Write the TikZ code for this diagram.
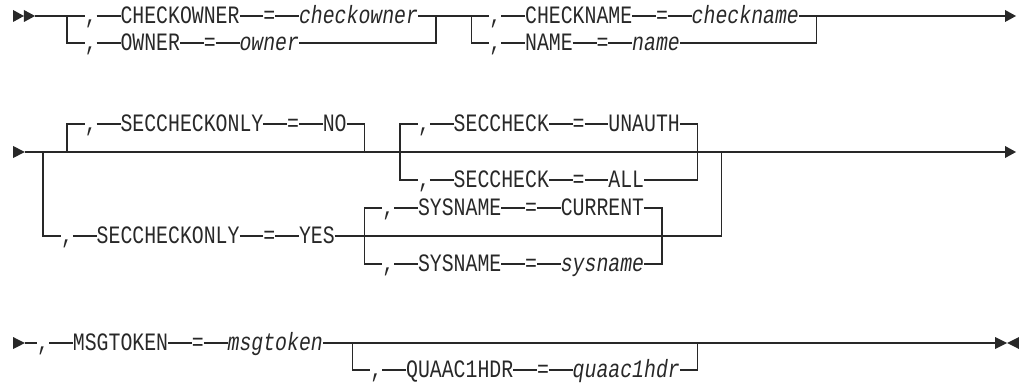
\documentclass[tikz,border=0pt]{standalone}
\usepackage{fontspec}
\usepackage{xcolor}
\usepackage{tikz}
\usetikzlibrary{calc}
\newfontfamily\railfont{Liberation Mono}[FakeStretch=0.7934]
\definecolor{RailInk}{RGB}{40,40,40}

\tikzset{
	rail/.style={draw=RailInk, line width=0.7pt},
	kw/.style={anchor=west, inner sep=0pt, outer sep=0pt, text height=7.4pt, text depth=0pt,
		text=RailInk, font=\fontsize{12.5}{14}\railfont},
	var/.style={kw, font=\fontsize{12.5}{14}\railfont\itshape},
	tip/.style={fill=RailInk}
}

\begin{document}
\begin{tikzpicture}[x=5.95pt, y=-0.5pt]
			\useasboundingbox (-0.126,0) rectangle (85.5,383);
			% first row
			\fill[tip] (0.97,10) -- (1.89,16) -- (0.97,22) -- cycle;
			\fill[tip] (1.89,10) -- (2.82,16) -- (1.89,22) -- cycle;
			\coordinate (R1s) at (2.82,16);
			\coordinate (A1l) at (5.5,16);
			\coordinate (A1r) at (36.5,16);
			\coordinate (B1l) at (39.5,16);
			\coordinate (B1r) at (68.5,16);
			\coordinate (R1e) at (84.33,16);
			\node[kw] (ca1) at (7,16) {,};
			\node[kw] (ka1) at (10,16) {CHECKOWNER};
			\node[kw] (ea1) at (22,16) {=};
			\node[var] (va1) at (25,16) {checkowner};
			\node[kw] (ca2) at (7,43) {,};
			\node[kw] (ka2) at (10,43) {OWNER};
			\node[kw] (ea2) at (17,43) {=};
			\node[var] (va2) at (20,43) {owner};
			\node[kw] (cb1) at (41,16) {,};
			\node[kw] (kb1) at (44,16) {CHECKNAME};
			\node[kw] (eb1) at (55,16) {=};
			\node[var] (vb1) at (58,16) {checkname};
			\node[kw] (cb2) at (41,43) {,};
			\node[kw] (kb2) at (44,43) {NAME};
			\node[kw] (eb2) at (50,43) {=};
			\node[var] (vb2) at (53,43) {name};
			\draw[rail] (R1s) -- (ca1) -- (ka1) -- (ea1) -- (va1) -- (cb1) -- (kb1) -- (eb1) -- (vb1) -- (R1e);
			\draw[rail] (A1l) |- (ca2.west);
			\draw[rail] (ca2) -- (ka2) -- (ea2) -- (va2);
			\draw[rail] (va2.east) -| (A1r);
			\draw[rail] (B1l) |- (cb2.west);
			\draw[rail] (cb2) -- (kb2) -- (eb2) -- (vb2);
			\draw[rail] (vb2.east) -| (B1r);
			\fill[tip] (84.33,10) -- (85.25,16) -- (84.33,22) -- cycle;
			% second row
			\fill[tip] (0.97,146) -- (1.97,152) -- (0.97,158) -- cycle;
			\coordinate (R2s) at (1.97,152);
			\coordinate (P2l) at (3.5,152);
			\coordinate (N2l) at (5.5,152);
			\coordinate (N2r) at (30.5,152);
			\coordinate (S2l) at (33.5,152);
			\coordinate (S2r) at (58.5,152);
			\coordinate (P2r) at (60.5,152);
			\coordinate (R2e) at (84.33,152);
			\coordinate (Q2l) at (30.5,236);
			\coordinate (Q2r) at (55.5,236);
			\node[kw] (cn) at (7,124) {,};
			\node[kw] (kn) at (10,124) {SECCHECKONLY};
			\node[kw] (en) at (24,124) {=};
			\node[kw] (vn) at (27,124) {NO};
			\node[kw] (cs1) at (35,124) {,};
			\node[kw] (ks1) at (38,124) {SECCHECK};
			\node[kw] (es1) at (48,124) {=};
			\node[kw] (vs1) at (51,124) {UNAUTH};
			\node[kw] (cs2) at (35,180) {,};
			\node[kw] (ks2) at (38,180) {SECCHECK};
			\node[kw] (es2) at (48,180) {=};
			\node[kw] (vs2) at (51,180) {ALL};
			\node[kw] (cy) at (5,236) {,};
			\node[kw] (ky) at (8,236) {SECCHECKONLY};
			\node[kw] (ey) at (22,236) {=};
			\node[kw] (vy) at (25,236) {YES};
			\node[kw] (cq1) at (32,208) {,};
			\node[kw] (kq1) at (35,208) {SYSNAME};
			\node[kw] (eq1) at (44,208) {=};
			\node[kw] (vq1) at (47,208) {CURRENT};
			\node[kw] (cq2) at (32,264) {,};
			\node[kw] (kq2) at (35,264) {SYSNAME};
			\node[kw] (eq2) at (44,264) {=};
			\node[var] (vq2) at (47,264) {sysname};
			\draw[rail] (R2s) -- (R2e);
			\draw[rail] (N2l) |- (cn.west);
			\draw[rail] (cn) -- (kn) -- (en) -- (vn);
			\draw[rail] (vn.east) -| (N2r);
			\draw[rail] (S2l) |- (cs1.west);
			\draw[rail] (S2l) |- (cs2.west);
			\draw[rail] (cs1) -- (ks1) -- (es1) -- (vs1);
			\draw[rail] (cs2) -- (ks2) -- (es2) -- (vs2);
			\draw[rail] (vs1.east) -| (S2r);
			\draw[rail] (vs2.east) -| (S2r);
			\draw[rail] (P2l) |- (cy.west);
			\draw[rail] (cy) -- (ky) -- (ey) -- (vy) -- (Q2l) -- (Q2r) -| (P2r);
			\draw[rail] (Q2l) |- (cq1.west);
			\draw[rail] (Q2l) |- (cq2.west);
			\draw[rail] (cq1) -- (kq1) -- (eq1) -- (vq1);
			\draw[rail] (cq2) -- (kq2) -- (eq2) -- (vq2);
			\draw[rail] (vq1.east) -| (Q2r);
			\draw[rail] (vq2.east) -| (Q2r);
			\fill[tip] (84.33,146) -- (85.25,152) -- (84.33,158) -- cycle;
			% third row
			\fill[tip] (0.97,337) -- (1.97,343) -- (0.97,349) -- cycle;
			\coordinate (R3s) at (1.97,343);
			\coordinate (U3l) at (29.5,343);
			\coordinate (U3r) at (58.5,343);
			\coordinate (R3e) at (83.5,343);
			\node[kw] (cm) at (3,343) {,};
			\node[kw] (km) at (6,343) {MSGTOKEN};
			\node[kw] (em) at (16,343) {=};
			\node[var] (vm) at (19,343) {msgtoken};
			\node[kw] (cu) at (31,370) {,};
			\node[kw] (ku) at (34,370) {QUAAC1HDR};
			\node[kw] (eu) at (45,370) {=};
			\node[var] (vu) at (48,370) {quaac1hdr};
			\draw[rail] (R3s) -- (cm) -- (km) -- (em) -- (vm) -- (R3e);
			\draw[rail] (U3l) |- (cu.west);
			\draw[rail] (cu) -- (ku) -- (eu) -- (vu);
			\draw[rail] (vu.east) -| (U3r);
			\fill[tip] (83.5,337) -- (84.5,343) -- (83.5,349) -- cycle;
			\fill[tip] (85.5,337) -- (84.5,343) -- (85.5,349) -- cycle;
		\end{tikzpicture}
\end{document}
